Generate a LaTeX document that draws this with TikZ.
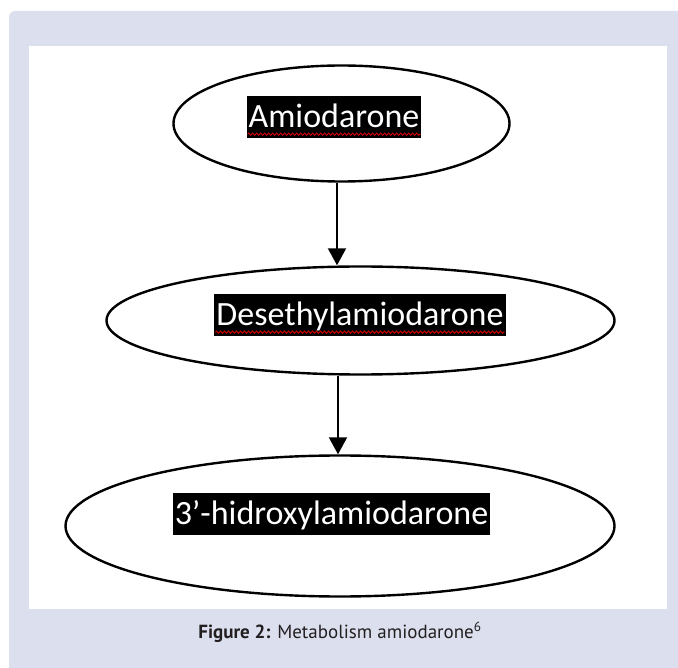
\documentclass[tikz,border=0pt]{standalone}
\usepackage{fontspec}
\setmainfont{Carlito}
\newfontfamily\capfont{PT Sans}
\usetikzlibrary{arrows.meta,decorations.pathmorphing,shapes.geometric,calc}
\definecolor{panel}{RGB}{220,224,238}
\definecolor{captext}{RGB}{35,31,32}
\tikzset{
  oval/.style={ellipse, draw=black, line width=2.4pt, fill=white, inner sep=0pt},
  hl/.style={fill=black, text=white, font=\fontsize{34}{40}\selectfont,
             inner xsep=2pt, inner ysep=0pt, text height=32pt, text depth=10pt},
  arr/.style={line width=2pt, -{Triangle[width=18pt,length=17pt]}},
  squiggle/.style={draw=red!85!black, line width=0.9pt, decorate,
                   decoration={snake, amplitude=1.1pt, segment length=4pt}}
}
\begin{document}
\begin{tikzpicture}[x=1pt,y=-1pt]
\useasboundingbox (0,0) rectangle (678,668);
\clip (0,0) rectangle (678,668);
\fill[white] (0,0) rectangle (678,668);
\fill[panel, rounded corners=6pt] (9,11) rectangle (700,700);
\fill[white] (29,46) rectangle (667,609);

\node[oval, minimum width=336pt, minimum height=116pt] (e1) at (341.5,123.5) {};
\node[oval, minimum width=508pt, minimum height=108pt] (e2) at (360.5,320.5) {};
\node[oval, minimum width=549pt, minimum height=141pt] (e3) at (340,526) {};

\node[hl] (t1) at (334,117) {Amiodarone};
\node[hl] (t2) at (360,315) {Desethylamiodarone};
\node[hl] (t3) at (331.5,513.5) {3’-hidroxylamiodarone};

\draw[squiggle] ($(t1.south west)+(1,-4)$) -- ($(t1.south east)+(-1,-4)$);
\draw[squiggle] ($(t2.south west)+(1,-4)$) -- ($(t2.south east)+(-1,-4)$);

\coordinate (a1) at (337,0);
\coordinate (a2) at (338,0);
\draw[arr] (e1.south -| a1) -- (e2.north -| a1);
\draw[arr] (e2.south -| a2) -- (e3.north -| a2);

\node[font=\capfont\fontsize{19}{23}\selectfont, text=captext, anchor=base] (cap) at (340,638)
  {\textbf{Figure 2:} Metabolism amiodarone\textsuperscript{6}};
\end{tikzpicture}
\end{document}
